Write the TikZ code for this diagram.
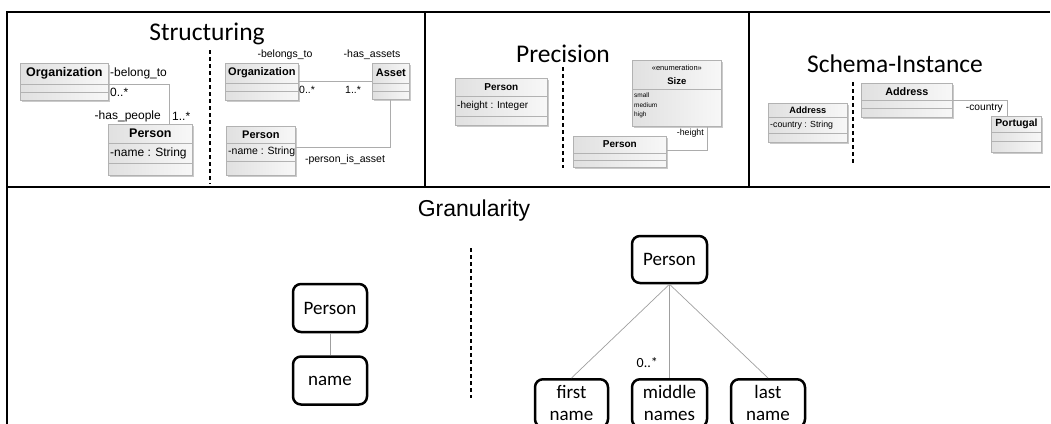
\documentclass[tikz,border=0pt]{standalone}
\usepackage{fontspec}
\setmainfont{Liberation Sans}
\newfontfamily\calibri{Carlito}
\usepackage{tikz}
\usetikzlibrary{positioning,shadows}

\begin{document}
\begin{tikzpicture}[x=1pt, y=-1pt,
    frame/.style={line width=2pt},
    divider/.style={dash pattern=on 4pt off 3pt, line width=1.1pt},
    heading/.style={font=\calibri\fontsize{25.5}{30}\selectfont},
    uml/.style={draw=gray!60, line width=0.7pt, left color=gray!24, right color=gray!6, inner sep=0pt, anchor=north west,
      drop shadow={shadow xshift=1.5pt, shadow yshift=-1.5pt, fill=gray!70, opacity=0.6}},
    compline/.style={draw=gray!60, line width=0.6pt},
    assoc/.style={draw=gray!65, line width=0.9pt},
    cls/.style={font=\bfseries\fontsize{#1}{#1}\selectfont, inner sep=1pt},
    txt/.style={font=\fontsize{#1}{#1}\selectfont, inner sep=1pt},
    rbox/.style={draw, line width=2.5pt, rounded corners=8pt, minimum width=74pt, minimum height=48pt, align=center, inner sep=2pt,
      font=\calibri\fontsize{19}{22}\selectfont},
    tree/.style={draw=gray!75, line width=0.7pt}
  ]
  \useasboundingbox (0,0) rectangle (1051,423);
  \clip (0,0) rectangle (1051,423);

  % panel frame
  \draw[frame] (7,430) -- (7,12) -- (1050,12);
  \draw[frame] (7,187) -- (1050,187);
  \draw[frame] (425,12) -- (425,187);
  \draw[frame] (749,12) -- (749,187);

  % Structuring
  \node[heading] (structT) at (207,34) {Structuring};
  \draw[divider] (210,50) -- (210,184);

  \node[uml, minimum width=88pt, minimum height=37pt] (orgA) at (20,63) {};
  \node[cls=12.5] (orgAname) at ([yshift=-10.5pt]orgA.north) {Organization};
  \node[uml, minimum width=84pt, minimum height=51pt] (personA) at (108,124) {};
  \node[cls=12.5] (personAname) at ([yshift=-9.5pt]personA.north) {Person};
  \node[txt=12, anchor=west] (personAattr) at ([xshift=1pt,yshift=-29pt]personA.north west) {-name : String};
  \draw[assoc] ([yshift=-21pt]orgA.north east) -| ([xshift=19pt]personA.north);
  \node[txt=12, anchor=west] (belongto) at (109,73) {-belong\_to};
  \node[txt=12, anchor=west] (multA1) at (109,92) {0..*};
  \node[txt=12, anchor=east] (haspeople) at (162,116) {-has\_people};
  \node[txt=12, anchor=west] (multA2) at (171,116) {1..*};

  \node[uml, minimum width=73pt, minimum height=37pt] (orgB) at (225,63) {};
  \node[cls=11] (orgBname) at ([yshift=-10pt]orgB.north) {Organization};
  \node[uml, minimum width=37pt, minimum height=36pt] (assetB) at (372,63) {};
  \node[cls=11] (assetBname) at ([yshift=-10pt]assetB.north) {Asset};
  \node[uml, minimum width=69pt, minimum height=49pt] (personB) at (226,126) {};
  \node[cls=11] (personBname) at ([yshift=-8.5pt]personB.north) {Person};
  \node[txt=10.5, anchor=west] (personBattr) at ([xshift=1pt,yshift=-26pt]personB.north west) {-name : String};
  \draw[assoc] ([yshift=-18pt]orgB.north east) -- ([yshift=-18pt]assetB.north west);
  \draw[assoc] (assetB.south) |- ([yshift=-21pt]personB.north east);
  \node[txt=10.5] (belongsto) at (285,55) {-belongs\_to};
  \node[txt=10.5] (hasassets) at (372,55) {-has\_assets};
  \node[txt=10.5, anchor=west] (multB1) at (298,90) {0..*};
  \node[txt=10.5, anchor=west] (multB2) at (344,90) {1..*};
  \node[txt=10.5] (personisasset) at (345,160) {-person\_is\_asset};

  % Precision
  \node[heading] (precT) at (563,54) {Precision};
  \draw[divider] (563,67) -- (563,168);

  \node[uml, minimum width=92pt, minimum height=47pt] (personC) at (455,78) {};
  \node[cls=10] (personCname) at ([yshift=-9pt]personC.north) {Person};
  \node[txt=10, anchor=west] (personCattr) at ([xshift=1pt,yshift=-28pt]personC.north west) {-height : Integer};

  \node[uml, minimum width=89pt, minimum height=66pt] (sizeC) at (632,60) {};
  \node[txt=7.5] (sizeCst) at ([yshift=-8pt]sizeC.north) {«enumeration»};
  \node[cls=9.5] (sizeCname) at ([yshift=-21pt]sizeC.north) {Size};
  \foreach \lit [count=\i] in {small,medium,high}
    \node[txt=6.5, anchor=west] (lit\i) at ([xshift=1pt,yshift={-(25+10*\i)*1pt}]sizeC.north west) {\lit};
  \node[uml, minimum width=93pt, minimum height=31pt] (personC2) at (573,136) {};
  \node[cls=10] (personC2name) at ([yshift=-8.5pt]personC2.north) {Person};
  \draw[assoc] ([xshift=-14pt]sizeC.south east) |- ([yshift=-14pt]personC2.north east);
  \node[txt=8.8, anchor=east] (heightlbl) at (705,133) {-height};

  % Schema-Instance
  \node[heading] (schemaT) at (895,64) {Schema-Instance};
  \draw[divider] (853,82) -- (853,163);

  \node[uml, minimum width=79pt, minimum height=39pt] (addrD) at (768,103) {};
  \node[cls=9.2] (addrDname) at ([yshift=-7pt]addrD.north) {Address};
  \node[txt=8.8, anchor=west] (addrDattr) at ([xshift=1pt,yshift=-22pt]addrD.north west) {-country : String};
  \node[uml, minimum width=91pt, minimum height=34pt] (addrD2) at (861,83) {};
  \node[cls=10.8] (addrD2name) at ([yshift=-8.5pt]addrD2.north) {Address};
  \node[uml, minimum width=50pt, minimum height=36pt] (portugal) at (991,116) {};
  \node[cls=10.4] (portugalname) at ([yshift=-8pt]portugal.north) {Portugal};
  \draw[assoc] ([yshift=-17pt]addrD2.north east) -| ([xshift=-9pt]portugal.north);
  \node[txt=10.2, anchor=east] (countrylbl) at (1004,108) {-country};

  % compartment lines of the class boxes
  \foreach \nm/\d in {orgA/21, orgA/29, personA/19, personA/39, orgB/20, orgB/28, assetB/20, assetB/28,
      personB/17, personB/35, personC/18, personC/38, sizeC/29, personC2/17, personC2/24,
      addrD/14, addrD/30, addrD2/17, addrD2/25, portugal/16, portugal/25}
    \draw[compline] ([yshift=-\d pt]\nm.north west) -- ([yshift=-\d pt]\nm.north east);

  % Granularity
  \node[font=\fontsize{23}{26}\selectfont] (granT) at (474,211) {Granularity};
  \node[rbox] (personL) at (330,308) {Person};
  \node[rbox] (nameL) at (330,380.5) {name};
  \draw[tree] (personL) -- (nameL);
  \draw[divider] (471,248) -- (471,398);

  \node[rbox, minimum width=75pt, minimum height=47pt] (personR) at (669.5,259.5) {Person};
  \node[rbox, minimum width=73pt, anchor=north] (firstN) at (571.5,378) {first\\name};
  \node[rbox, minimum width=75pt, anchor=north] (middleN) at (669.5,378) {middle\\names};
  \node[rbox, anchor=north] (lastN) at (768,378) {last\\name};
  \draw[tree] (personR.south) -- (firstN.north);
  \draw[tree] (personR.south) -- (middleN.north);
  \draw[tree] (personR.south) -- (lastN.north);
  \node[font=\calibri\fontsize{14}{16}\selectfont, anchor=east, inner sep=1pt] (multG) at (659,363) {0..*};
\end{tikzpicture}
\end{document}
